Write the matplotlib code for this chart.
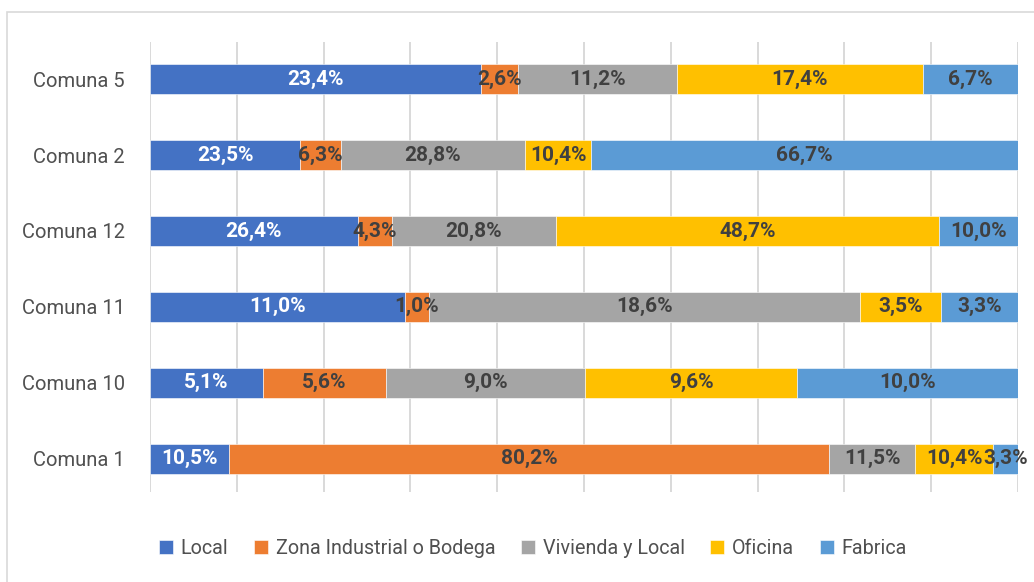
import matplotlib.pyplot as plt
import numpy as np
from matplotlib.patches import Rectangle

plt.rcParams['font.family'] = ['Roboto', 'DejaVu Sans']

comunas = ['Comuna 1', 'Comuna 10', 'Comuna 11', 'Comuna 12', 'Comuna 2', 'Comuna 5']
series = ['Local', 'Zona Industrial o Bodega', 'Vivienda y Local', 'Oficina', 'Fabrica']
local = [10.5, 5.1, 11.0, 26.4, 23.5, 23.4]
zona = [80.2, 5.6, 1.0, 4.3, 6.3, 2.6]
vivienda = [11.5, 9.0, 18.6, 20.8, 28.8, 11.2]
oficina = [10.4, 9.6, 3.5, 48.7, 10.4, 17.4]
fabrica = [3.3, 10.0, 3.3, 10.0, 66.7, 6.7]
colors = ['#4472C4', '#ED7D31', '#A5A5A5', '#FFC000', '#5B9BD5']
label_colors = ['white', '#404040', '#404040', '#404040', '#404040']

W, H = 1034, 582
fig = plt.figure(figsize=(W / 100, H / 100), dpi=100)
ax = fig.add_axes([150 / W, 1 - 492 / H, 868 / W, 450 / H])

# outer chart frame (cut off at right/bottom like the reference)
fig.patches.append(Rectangle((7 / W, -0.1), 2, 1 - 12 / H + 0.1, transform=fig.transFigure,
                             fill=False, edgecolor='#d9d9d9', linewidth=1.2))

data = np.array([local, zona, vivienda, oficina, fabrica])
totals = data.sum(axis=0)
shares = data / totals * 100
y = np.arange(len(comunas))
left = np.zeros(len(comunas))
for i, name in enumerate(series):
    ax.barh(y, shares[i], left=left, height=0.395, color=colors[i], label=name,
            edgecolor='white', linewidth=0.4, zorder=3)
    for j in range(len(comunas)):
        txt = f"{data[i, j]:.1f}%".replace('.', ',')
        ax.text(left[j] + shares[i, j] / 2, y[j], txt, ha='center', va='center',
                color=label_colors[i], fontsize=15, fontweight='bold', zorder=4)
    left += shares[i]

ax.set_xlim(0, 100)
ax.set_ylim(-0.44, 5.49)
ax.set_xticks(np.arange(0, 101, 10))
ax.set_xticklabels([])
ax.tick_params(axis='both', length=0)
ax.grid(axis='x', color='#d9d9d9', linewidth=1.4, zorder=0)
ax.set_yticks(y)
ax.set_yticklabels(comunas, fontsize=14.5, color='#505050')
ax.tick_params(axis='y', pad=18)
for s in ax.spines.values():
    s.set_visible(False)

fig.legend(loc='center', bbox_to_anchor=(533 / W, 1 - 548 / H), ncol=5, frameon=False,
           handlelength=0.7, handleheight=0.7, handletextpad=0.4,
           columnspacing=1.3, labelcolor='#505050', prop={'size': 14.2})

fig.savefig('out.png', dpi=100)
